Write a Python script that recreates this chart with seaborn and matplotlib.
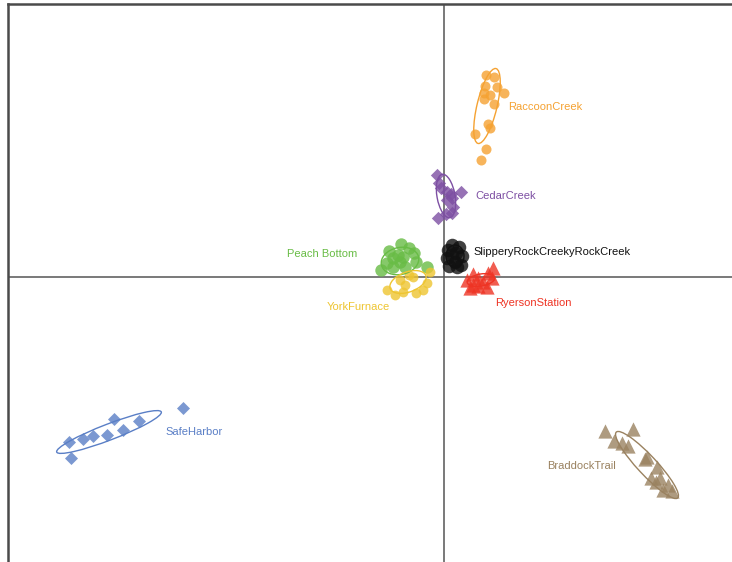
import numpy as np
import pandas as pd
import matplotlib
matplotlib.use("Agg")
import matplotlib.pyplot as plt
from matplotlib.patches import Ellipse
import seaborn as sns

# Site scores on the first two ordination axes
raccoon_x = [0.42, 0.50, 0.41, 0.53, 0.40, 0.46, 0.60, 0.40, 0.50, 0.44, 0.46, 0.31, 0.42, 0.37]
raccoon_y = [2.02, 2.00, 1.91, 1.90, 1.84, 1.82, 1.84, 1.78, 1.73, 1.53, 1.49, 1.43, 1.28, 1.17]

cedar_x = [-0.07, -0.05, -0.03, 0.03, 0.07, 0.17, 0.08, 0.03, 0.09, 0.08, 0.02, -0.06]
cedar_y = [1.02, 0.94, 0.89, 0.85, 0.83, 0.85, 0.79, 0.77, 0.70, 0.64, 0.63, 0.59]

slippery_x = [0.08, 0.15, 0.04, 0.12, 0.18, 0.03, 0.11, 0.17, 0.05, 0.13, 0.08]
slippery_y = [0.32, 0.30, 0.27, 0.24, 0.21, 0.19, 0.15, 0.12, 0.11, 0.10, 0.22]

ryerson_x = [0.23, 0.29, 0.34, 0.49, 0.44, 0.39, 0.26, 0.43, 0.29, 0.48, 0.34]
ryerson_y = [-0.03, 0.03, -0.01, 0.09, 0.04, -0.05, -0.11, -0.10, -0.08, -0.01, -0.09]

peach_x = [-0.55, -0.43, -0.35, -0.30, -0.51, -0.44, -0.57, -0.63, -0.51, -0.39, -0.28, -0.17, -0.41, -0.46]
peach_y = [0.26, 0.33, 0.29, 0.24, 0.19, 0.15, 0.14, 0.07, 0.10, 0.10, 0.15, 0.10, 0.20, 0.22]

york_x = [-0.35, -0.44, -0.39, -0.17, -0.14, -0.57, -0.41, -0.49, -0.28, -0.21, -0.31]
york_y = [0.02, -0.03, -0.08, -0.06, 0.05, -0.13, -0.15, -0.18, -0.16, -0.13, 0.00]

safe_x = [-3.75, -3.61, -3.51, -3.37, -3.21, -3.30, -3.05, -2.61, -3.73]
safe_y = [-1.65, -1.62, -1.59, -1.58, -1.53, -1.42, -1.44, -1.31, -1.81]

braddock_x = [1.61, 1.89, 1.70, 1.78, 1.84, 2.03, 2.13, 2.07, 2.16, 2.24, 2.19, 2.28, 2.01, 2.12]
braddock_y = [-1.54, -1.52, -1.64, -1.66, -1.69, -1.80, -1.90, -2.01, -2.01, -2.08, -2.13, -2.14, -1.82, -2.05]

sites = ["RaccoonCreek", "CedarCreek", "SlipperyRockCreekyRockCreek", "RyersonStation",
         "Peach Bottom", "YorkFurnace", "SafeHarbor", "BraddockTrail"]
site_x = [raccoon_x, cedar_x, slippery_x, ryerson_x, peach_x, york_x, safe_x, braddock_x]
site_y = [raccoon_y, cedar_y, slippery_y, ryerson_y, peach_y, york_y, safe_y, braddock_y]

# Group ellipses: centre, major/minor axis length, rotation (degrees)
ell_cx = [0.43, 0.02, 0.11, 0.37, -0.44, -0.36, -3.35, 2.03]
ell_cy = [1.71, 0.81, 0.21, -0.03, 0.16, -0.05, -1.55, -1.88]
ell_major = [0.77, 0.44, 0.22, 0.28, 0.38, 0.38, 1.12, 0.90]
ell_minor = [0.20, 0.18, 0.18, 0.12, 0.27, 0.20, 0.16, 0.19]
ell_angle = [76.5, 100.0, 90.0, 10.0, 12.0, 20.0, 21.0, -47.0]

# Label anchor points
label_x = [0.64, 0.31, 0.29, 0.51, -0.87, -0.54, -2.79, 1.72]
label_y = [1.70, 0.81, 0.25, -0.26, 0.23, -0.30, -1.55, -1.89]

colors = ["#F5A232", "#7D4FA3", "#111111", "#EE3424", "#68BC45", "#EEC531", "#5A7FC6", "#9A8260"]
markers = ["o", "D", "o", "^", "o", "o", "D", "^"]
msizes = [52, 46, 95, 105, 80, 50, 44, 105]
label_ha = ["left", "left", "left", "left", "right", "right", "left", "right"]

frames = []
for name, xs, ys in zip(sites, site_x, site_y):
    frames.append(pd.DataFrame({"site": name, "Axis1": xs, "Axis2": ys}))
df = pd.concat(frames, ignore_index=True)

sns.set_style("white")
plt.rcParams["font.family"] = ["Liberation Sans", "DejaVu Sans"]

fig = plt.figure(figsize=(7.32, 5.62), dpi=100)
ax = fig.add_axes([8 / 732, 0.0, 1 - 8 / 732, 1 - 4 / 562])

ax.axhline(0, color="#555555", lw=1.1, zorder=1)
ax.axvline(0, color="#555555", lw=1.1, zorder=1)

for i, name in enumerate(sites):
    sub = df[df["site"] == name]
    sns.scatterplot(data=sub, x="Axis1", y="Axis2", ax=ax, color=colors[i],
                    marker=markers[i], s=msizes[i], alpha=0.8, linewidth=0,
                    zorder=3, legend=False)
    ax.add_patch(Ellipse((ell_cx[i], ell_cy[i]), ell_major[i], ell_minor[i],
                         angle=ell_angle[i], fill=False, edgecolor=colors[i],
                         lw=1.0, zorder=4))
    ax.text(label_x[i], label_y[i], name, color=colors[i], fontsize=8,
            ha=label_ha[i], va="center", zorder=5)

ax.set_xlim(-4.36, 2.88)
ax.set_ylim(-2.85, 2.73)
ax.set_xlabel("")
ax.set_ylabel("")
ax.set_xticks([])
ax.set_yticks([])
for side in ["right", "bottom"]:
    ax.spines[side].set_visible(False)
for side in ["top", "left"]:
    ax.spines[side].set_color("#4a4a4a")
    ax.spines[side].set_linewidth(1.8)

fig.savefig("out.png", dpi=100)
